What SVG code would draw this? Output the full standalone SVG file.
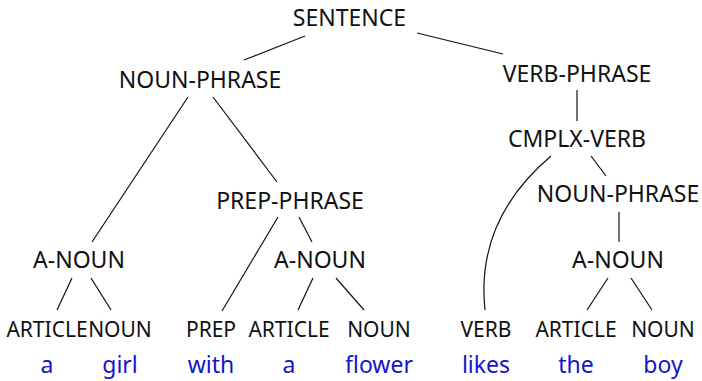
<svg xmlns="http://www.w3.org/2000/svg" width="702" height="381" viewBox="0 0 702 381">
<style>
text{font-family:"Noto Sans","Open Sans",sans-serif;text-anchor:middle}
.n{font-size:23px;fill:#111}
.l{font-size:21px;fill:#111}
.w{font-size:23px;fill:#1414cc}
.e{stroke:#111;stroke-width:1.2;fill:none}
</style>
<rect width="702" height="381" fill="#fff"/>
<g id="connectors" class="e">
<line x1="305" y1="36" x2="244" y2="60"/>
<line x1="417" y1="33" x2="503" y2="54"/>
<line x1="188" y1="97" x2="92" y2="242"/>
<line x1="213" y1="97" x2="277" y2="182"/>
<line x1="577" y1="90" x2="577" y2="121"/>
<line x1="591" y1="156" x2="606" y2="176"/>
<path d="M551,156 C505,195 478,245 485,310"/>
<line x1="278" y1="217" x2="222" y2="311"/>
<line x1="299" y1="217" x2="312" y2="242"/>
<line x1="72" y1="278" x2="57" y2="310"/>
<line x1="91" y1="278" x2="111" y2="310"/>
<line x1="313" y1="278" x2="298" y2="310"/>
<line x1="336" y1="278" x2="364" y2="310"/>
<line x1="619" y1="212" x2="619" y2="242"/>
<line x1="608" y1="278" x2="587" y2="310"/>
<line x1="631" y1="278" x2="652" y2="310"/>
</g>
<g id="sentence"><text class="n" x="349.5" y="26">SENTENCE</text></g>
<g id="np1"><text class="n" x="200" y="88">NOUN-PHRASE</text></g>
<g id="vp"><text class="n" x="577" y="81.5">VERB-PHRASE</text></g>
<g id="cv"><text class="n" x="577" y="147">CMPLX-VERB</text></g>
<g id="np2"><text class="n" x="618" y="201.5">NOUN-PHRASE</text></g>
<g id="pp"><text class="n" x="290" y="209">PREP-PHRASE</text></g>
<g id="an1"><text class="n" x="79" y="268">A-NOUN</text></g>
<g id="an2"><text class="n" x="320" y="268">A-NOUN</text></g>
<g id="an3"><text class="n" x="618" y="268">A-NOUN</text></g>
<g id="art1"><text class="l" x="47" y="336.5">ARTICLE</text><text class="w" x="47" y="373">a</text></g>
<g id="noun1"><text class="l" x="120" y="336.5">NOUN</text><text class="w" x="120" y="373">girl</text></g>
<g id="prep"><text class="l" x="211" y="336.5">PREP</text><text class="w" x="211" y="373">with</text></g>
<g id="art2"><text class="l" x="289" y="336.5">ARTICLE</text><text class="w" x="289" y="373">a</text></g>
<g id="noun2"><text class="l" x="379" y="336.5">NOUN</text><text class="w" x="379" y="373">flower</text></g>
<g id="verb"><text class="l" x="486" y="336.5">VERB</text><text class="w" x="486" y="373">likes</text></g>
<g id="art3"><text class="l" x="576" y="336.5">ARTICLE</text><text class="w" x="576" y="373">the</text></g>
<g id="noun3"><text class="l" x="663" y="336.5">NOUN</text><text class="w" x="663" y="373">boy</text></g>
</svg>
